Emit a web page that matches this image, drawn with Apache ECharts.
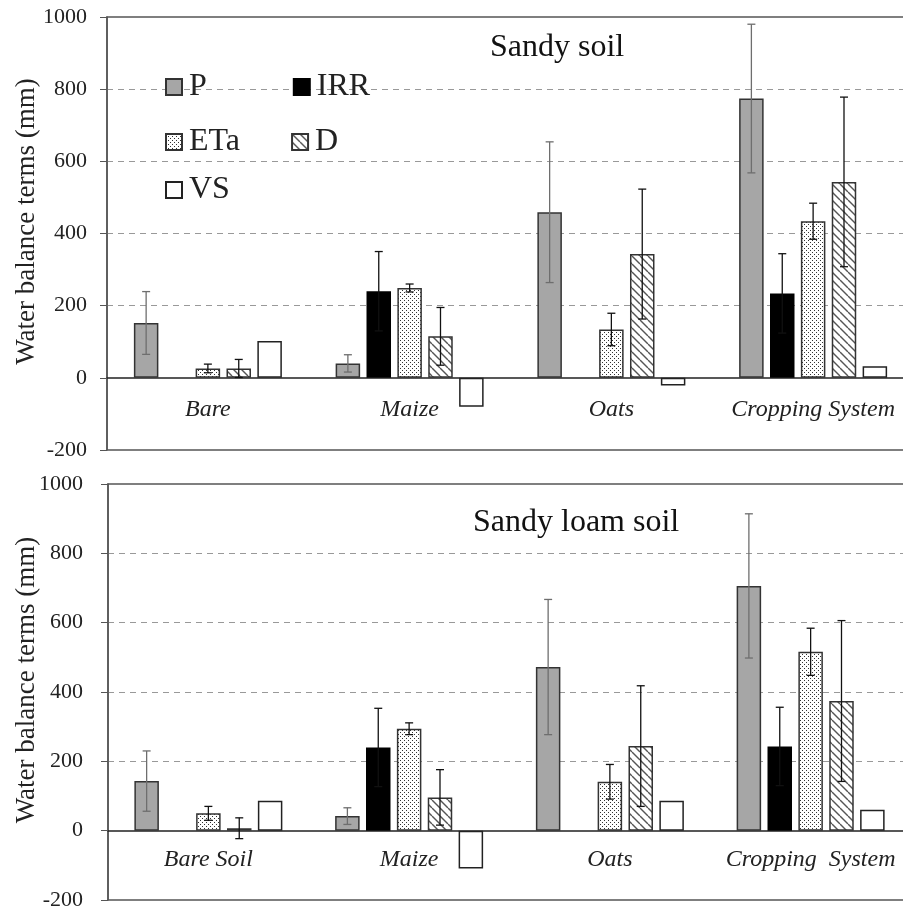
<!DOCTYPE html>
<html>
<head>
<meta charset="utf-8">
<script src="https://cdn.jsdelivr.net/npm/echarts@6/dist/echarts.min.js"></script>
<style>
  html, body { margin: 0; padding: 0; background: #fff; }
  #charts { width: 903px; height: 913px; }
</style>
</head>
<body>
<div id="charts"></div>
<script>
// categories
const catsSandy = ["Bare", "Maize", "Oats", "Cropping System"];
const catsLoam = ["Bare Soil", "Maize", "Oats", "Cropping  System"];
const seriesNames = ["P", "IRR", "ETa", "D", "VS"];
const yTicks = [-200, 0, 200, 400, 600, 800, 1000];

// Sandy soil (top panel)
const sandyP = [152, 40, 459, 774];
const sandyPErr = [87, 24, 195, 206];
const sandyIRR = [null, 240, null, 234];
const sandyIRRErr = [0, 110, 0, 110];
const sandyETa = [26, 249, 134, 434];
const sandyETaErr = [12, 11, 45, 50];
const sandyD = [26, 115, 343, 543];
const sandyDErr = [25, 80, 180, 235];
const sandyVS = [102, -80, -21, 32];

// Sandy loam soil (bottom panel)
const loamP = [143, 42, 472, 706];
const loamPErr = [87, 24, 195, 208];
const loamIRR = [null, 240, null, 243];
const loamIRRErr = [0, 113, 0, 113];
const loamETa = [50, 294, 141, 516];
const loamETaErr = [20, 17, 50, 68];
const loamD = [7, 96, 244, 374];
const loamDErr = [30, 80, 174, 232];
const loamVS = [86, -109, 86, 60];

const FONT = "Liberation Serif";
const BAR_W = 24.5;
const BAR_GAP = 0.26;

function dotPattern() {
  const c = document.createElement("canvas");
  c.width = 4; c.height = 4;
  const ctx = c.getContext("2d");
  ctx.fillStyle = "#fff";
  ctx.fillRect(0, 0, 4, 4);
  ctx.fillStyle = "#333";
  ctx.fillRect(0, 0, 1, 1);
  ctx.fillRect(2, 2, 1, 1);
  return c;
}

function hatchPattern() {
  const n = 8;
  const c = document.createElement("canvas");
  c.width = n; c.height = n;
  const ctx = c.getContext("2d");
  ctx.fillStyle = "#fff";
  ctx.fillRect(0, 0, n, n);
  ctx.strokeStyle = "#555";
  ctx.lineWidth = 1.4;
  [-n, 0, n].forEach(function (k) {
    ctx.beginPath();
    ctx.moveTo(k, 0);
    ctx.lineTo(k + n, n);
    ctx.stroke();
  });
  return c;
}

const styles = {
  P: { color: "#a6a6a6", borderColor: "#333", borderWidth: 1.5 },
  IRR: { color: "#000", borderColor: "#000", borderWidth: 1.5 },
  ETa: { color: { image: dotPattern(), repeat: "repeat" }, borderColor: "#333", borderWidth: 1.5 },
  D: { color: { image: hatchPattern(), repeat: "repeat" }, borderColor: "#333", borderWidth: 1.5 },
  VS: { color: "#fff", borderColor: "#222", borderWidth: 1.5 }
};

function errData(vals, errs) {
  const out = [];
  vals.forEach(function (v, s) {
    v.forEach(function (val, c) {
      const e = errs[s][c];
      if (val != null && e) out.push([c, s, val - e, val + e]);
    });
  });
  return out;
}

function errRender(params, api) {
  const cat = api.value(0), s = api.value(1);
  const step = BAR_W * (1 + BAR_GAP);
  const x = api.coord([cat, 0])[0] + (s - 2) * step;
  const y1 = api.coord([cat, api.value(2)])[1];
  const y2 = api.coord([cat, api.value(3)])[1];
  const st = { stroke: s === 0 ? "#6e6e6e" : "#111", lineWidth: 1.3 };
  return {
    type: "group",
    children: [
      { type: "line", shape: { x1: x, y1: y1, x2: x, y2: y2 }, style: st },
      { type: "line", shape: { x1: x - 4, y1: y1, x2: x + 4, y2: y1 }, style: st },
      { type: "line", shape: { x1: x - 4, y1: y2, x2: x + 4, y2: y2 }, style: st }
    ]
  };
}

function panelSeries(idx, vals, errs) {
  const list = seriesNames.map(function (name, s) {
    return {
      name: name,
      type: "bar",
      xAxisIndex: idx,
      yAxisIndex: idx,
      barWidth: BAR_W,
      barGap: BAR_GAP * 100 + "%",
      itemStyle: styles[name],
      data: vals[s]
    };
  });
  list.push({
    type: "custom",
    xAxisIndex: idx,
    yAxisIndex: idx,
    z: 5,
    renderItem: errRender,
    data: errData(vals, errs)
  });
  return list;
}

function xAxis(idx, cats) {
  return {
    type: "category",
    gridIndex: idx,
    data: cats,
    axisLine: { onZero: true, lineStyle: { color: "#222", width: 1.5 } },
    axisTick: { show: false },
    // labels sit just under the zero line, not at the frame bottom
    axisLabel: { interval: 0, fontFamily: FONT, fontStyle: "italic", fontSize: 24, color: "#222", margin: -52 },
    splitLine: { show: false }
  };
}

function yAxis(idx, margin, gap) {
  return {
    type: "value",
    gridIndex: idx,
    min: yTicks[0],
    max: yTicks[yTicks.length - 1],
    interval: 200,
    name: "Water balance terms (mm)",
    nameLocation: "middle",
    nameGap: gap,
    nameMoveOverlap: false,
    nameTextStyle: { fontFamily: FONT, fontSize: 27, color: "#222", padding: [0, 0, 0, 24] },
    axisLine: { show: true, lineStyle: { color: "#555", width: 1.5 } },
    axisTick: { show: true, length: 7, lineStyle: { color: "#555" } },
    axisLabel: { fontFamily: FONT, fontSize: 22, color: "#222", margin: margin, formatter: function (v) { return String(v); } },
    splitLine: {
      show: true,
      lineStyle: {
        type: [6, 5],
        width: 1,
        color: ["transparent", "transparent", "#999", "#999", "#999", "#999", "transparent"]
      }
    }
  };
}

const legendBase = {
  itemWidth: 16,
  itemHeight: 16,
  icon: "rect",
  padding: 0,
  selectedMode: false,
  textStyle: { fontFamily: FONT, fontSize: 32, color: "#222", padding: [0, 0, 0, 2] }
};

const myChart = echarts.init(document.getElementById("charts"));
const option = {
  animation: false,
  backgroundColor: "#fff",
  title: [
    { text: "Sandy soil", left: 485, top: 27, textStyle: { fontFamily: FONT, fontSize: 32, fontWeight: "normal", color: "#111" } },
    { text: "Sandy loam soil", left: 468, top: 502, textStyle: { fontFamily: FONT, fontSize: 32, fontWeight: "normal", color: "#111" } }
  ],
  legend: [
    Object.assign({}, legendBase, { data: ["P", "IRR"], left: 165, top: 71, itemGap: 86 }),
    Object.assign({}, legendBase, { data: ["ETa", "D"], left: 165, top: 126, itemGap: 51 }),
    Object.assign({}, legendBase, { data: ["VS"], left: 165, top: 174 })
  ],
  grid: [
    { left: 107, top: 17, width: 807, height: 433, outerBoundsMode: "none", containLabel: false, show: true, borderColor: "#555", borderWidth: 1.5 },
    { left: 108, top: 484, width: 803, height: 416, outerBoundsMode: "none", containLabel: false, show: true, borderColor: "#555", borderWidth: 1.5 }
  ],
  xAxis: [xAxis(0, catsSandy), xAxis(1, catsLoam)],
  yAxis: [yAxis(0, 20, 67), yAxis(1, 25, 68)],
  series: panelSeries(0,
      [sandyP, sandyIRR, sandyETa, sandyD, sandyVS],
      [sandyPErr, sandyIRRErr, sandyETaErr, sandyDErr, [0, 0, 0, 0]])
    .concat(panelSeries(1,
      [loamP, loamIRR, loamETa, loamD, loamVS],
      [loamPErr, loamIRRErr, loamETaErr, loamDErr, [0, 0, 0, 0]]))
};
option && myChart.setOption(option);
</script>
</body>
</html>
